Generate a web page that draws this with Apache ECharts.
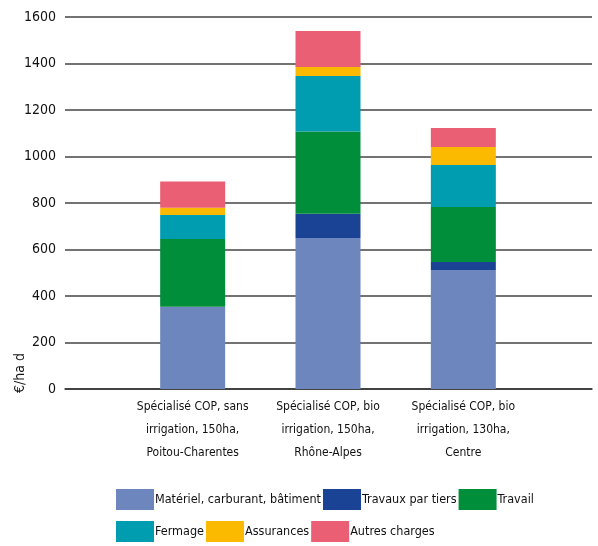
<!DOCTYPE html>
<html><head><meta charset="utf-8">
<script src="https://cdn.jsdelivr.net/npm/echarts@6/dist/echarts.min.js"></script>
<style>html,body{margin:0;padding:0;background:#fff}#c{width:598px;height:546px}</style>
</head><body><div id="c"></div>
<script>
const categories = ["Spécialisé COP, sans\nirrigation, 150ha,\nPoitou-Charentes", "Spécialisé COP, bio\nirrigation, 150ha,\nRhône-Alpes", "Spécialisé COP, bio\nirrigation, 130ha,\nCentre"];
const seriesNames = ["Matériel, carburant, bâtiment", "Travaux par tiers", "Travail", "Fermage", "Assurances", "Autres charges"];
const materiel = [354, 650, 512];
const travaux = [0, 104, 34];
const travail = [291, 353, 237];
const fermage = [103, 239, 180];
const assurances = [32, 39, 78];
const autres = [112, 155, 82];
const yTicks = [0, 200, 400, 600, 800, 1000, 1200, 1400, 1600];
const yName = "€/ha d";

const colors = ["#6d86bd", "#1a4396", "#008e3a", "#009cb0", "#fbb900", "#eb5f74"];
const values = [materiel, travaux, travail, fermage, assurances, autres];
const FONT = "'DejaVu Sans Condensed', 'Liberation Sans Narrow', sans-serif";

const legendCommon = {
  left: 111, itemWidth: 38, itemHeight: 21, itemGap: 2, icon: 'rect',
  textStyle: {fontFamily: FONT, fontSize: 12.5, color: '#111', padding: [8, 0, 0, -4]}
};

const chart = echarts.init(document.getElementById('c'), null, {renderer: 'canvas'});
chart.setOption({
  animation: false,
  color: colors,
  grid: [
    {left: 65, right: 6, top: 17, bottom: 157},
    {left: 125, right: 67, top: 17, bottom: 157}
  ],
  xAxis: [
    {gridIndex: 0, type: 'category', data: [''], axisLine: {lineStyle: {color: '#333', width: 1.5}}, axisTick: {show: false}, axisLabel: {show: false}},
    {gridIndex: 1, type: 'category', data: categories, axisLine: {show: false}, axisTick: {show: false},
     axisLabel: {fontFamily: FONT, fontSize: 12, color: '#111', lineHeight: 23, margin: 6, interval: 0}}
  ],
  yAxis: [
    {gridIndex: 0, type: 'value', min: yTicks[0], max: yTicks[yTicks.length-1], interval: 200,
     axisLine: {show: false}, axisTick: {show: false},
     axisLabel: {fontFamily: FONT, fontSize: 14, color: '#111', margin: 9, formatter: v => String(v)},
     splitLine: {lineStyle: {color: '#444', width: 1.5}}},
    {gridIndex: 1, type: 'value', min: yTicks[0], max: yTicks[yTicks.length-1], interval: 200, show: false}
  ],
  legend: [
    Object.assign({top: 484, data: seriesNames.slice(0, 3)}, legendCommon),
    Object.assign({top: 516, data: seriesNames.slice(3)}, legendCommon)
  ],
  graphic: [{
    type: 'text', x: 13, y: 393, rotation: Math.PI/2,
    style: {text: yName, font: "14px " + FONT, fill: '#111', textAlign: 'left', textVerticalAlign: 'top'}
  }],
  series: seriesNames.map((n, i) => ({
    name: n, type: 'bar', stack: 'total', xAxisIndex: 1, yAxisIndex: 1,
    barWidth: 65, data: values[i], itemStyle: {color: colors[i], borderWidth: 0}
  }))
});
</script></body></html>
